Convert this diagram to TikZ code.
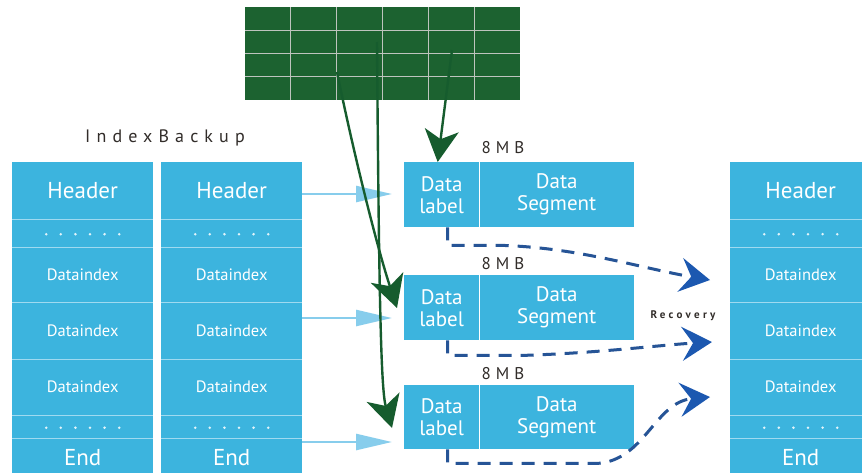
\documentclass[tikz,border=0pt]{standalone}
\usepackage{fontspec}
\setmainfont{PT Sans}
\newfontfamily\spacedA[LetterSpace=34]{PT Sans}
\newfontfamily\spacedB[LetterSpace=30]{PT Sans}
\usetikzlibrary{arrows.meta}
\definecolor{cellblue}{RGB}{60,180,222}
\definecolor{seplight}{RGB}{160,218,240}
\definecolor{gridgreen}{RGB}{28,98,48}
\definecolor{gridline}{RGB}{190,196,190}
\definecolor{arrowgreen}{RGB}{22,92,46}
\definecolor{lightarrow}{RGB}{135,205,236}
\definecolor{dashblue}{RGB}{38,84,150}
\definecolor{headblue}{RGB}{28,88,176}
\definecolor{textgray}{RGB}{50,45,42}
\newcommand\idxcol[2]{%
  \node[cell, bigtxt, minimum height=57pt] (#1h) at (#2,162) {Header};
  \node[cell, minimum height=28pt] (#1d1) at (#2,219) {};
  \node[cell, smalltxt, minimum height=55pt] (#1a) at (#2,247) {Dataindex};
  \node[cell, smalltxt, minimum height=57pt] (#1b) at (#2,302) {Dataindex};
  \node[cell, smalltxt, minimum height=56pt] (#1c) at (#2,359) {Dataindex};
  \node[cell, minimum height=23pt] (#1d2) at (#2,415) {};
  \node[cell, bigtxt, minimum height=38pt] (#1e) at (#2,438) {End};
  \foreach \n in {h,d1,a,b,c,d2} \draw[sep] (#1\n.south west) -- (#1\n.south east);
  \foreach \k in {0,...,5} {
    \fill[white!85!cellblue] ([xshift={(\k-2.5)*14.6pt},yshift=-1pt]#1d1.center) circle (1.4pt);
    \fill[white!85!cellblue] ([xshift={(\k-2.5)*14.6pt},yshift=-1pt]#1d2.center) circle (1.4pt);
  }
}
\begin{document}
\begin{tikzpicture}[x=1pt,y=-1pt,
  cell/.style={anchor=north west, fill=cellblue, minimum width=141pt, inner sep=0pt, text=white},
  bigtxt/.style={font=\fontsize{23}{25}\selectfont},
  smalltxt/.style={font=\fontsize{16.5}{18}\selectfont},
  sep/.style={draw=seplight, line width=1.6pt},
  dbox/.style={anchor=north west, fill=cellblue, inner sep=0pt, text=white, align=center,
    minimum height=65pt, font=\fontsize{21}{22}\selectfont},
  mb/.style={text=textgray, font=\spacedB\fontsize{17}{18}\selectfont, inner sep=0pt},
  lightarr/.style={draw=lightarrow, line width=2.5pt, -{Triangle[length=36pt,width=16pt]}},
  greenarr/.style={draw=arrowgreen, line width=2.4pt, -{Stealth[length=32pt,width=34pt,inset=9pt]}},
  dasharr/.style={draw=dashblue, line width=3pt, dash pattern=on 13pt off 9pt,
    -{Stealth[length=30pt,width=34pt,inset=11pt,color=headblue]}}
]
\useasboundingbox (0,0) rectangle (862,472);
\clip (0,0) rectangle (862,472);
\fill[white] (0,0) rectangle (862,472);

% green grid
\fill[gridgreen] (245,7) rectangle (520,100);
\foreach \i in {1,...,5} \draw[gridline, line width=0.9pt] ({245+\i*45.83},7) -- ({245+\i*45.83},100);
\foreach \j in {1,2,3} \draw[gridline, line width=0.9pt] (245,{7+\j*23.25}) -- (520,{7+\j*23.25});
\coordinate (gA) at (452,50);
\coordinate (gB) at (337,72);
\coordinate (gC) at (377,42);

% title
\node[text=textgray, font=\spacedA\fontsize{18}{20}\selectfont, inner sep=0pt] (title) at (165,138) {IndexBackup};

% columns
\idxcol{p}{12}
\idxcol{q}{161}
\idxcol{r}{730}

% data boxes
\node[dbox, minimum width=75pt] (l1) at (404,162) {Data\\label};
\node[dbox, minimum width=155pt] (s1) at (479,162) {Data\\Segment};
\node[dbox, minimum width=75pt] (l2) at (404,275) {Data\\label};
\node[dbox, minimum width=155pt] (s2) at (479,275) {Data\\Segment};
\node[dbox, minimum width=75pt, minimum height=64pt] (l3) at (404,385) {Data\\label};
\node[dbox, minimum width=155pt, minimum height=64pt] (s3) at (479,385) {Data\\Segment};
\foreach \b in {1,2,3} \draw[white, line width=1.5pt] (l\b.north east) -- (l\b.south east);

\node[mb] (m1) at (503,148) {8MB};
\node[mb] (m2) at (503,264) {8MB};
\node[mb] (m3) at (503,374) {8MB};

\node[text=textgray, font=\spacedB\bfseries\fontsize{11}{12}\selectfont, inner sep=0pt] (rec) at (683,316) {Recovery};

% light blue arrows
\coordinate (la1) at (392,194);
\coordinate (la2) at (392,318);
\coordinate (la3) at (392,442);
\draw[lightarr] (qh.east |- la1) -- (la1);
\draw[lightarr] (qb.east |- la2) -- (la2);
\draw[lightarr] (qe.east |- la3) -- (la3);

% green arrows
\coordinate (tB) at (397,308);
\coordinate (tC) at (392,428);
\draw[greenarr] (gA) -- ([xshift=-4pt]l1.north);
\draw[greenarr] (gB) .. controls (355,160) and (378,250) .. (tB);
\draw[greenarr] (gC) .. controls (379,300) and (381,390) .. (tC);

% recovery dashed arrows
\coordinate (d1) at (710,280);
\coordinate (d2) at (712,342);
\coordinate (d3) at (710,397);
\draw[dasharr] ([xshift=6pt]l1.south) -- ++(0,18) -- ++(55,0) .. controls (580,248) and (640,268) .. (d1);
\draw[dasharr] ([xshift=6pt]l2.south) -- ++(0,15) -- ++(75,0) .. controls (600,353) and (660,345) .. (d2);
\draw[dasharr] ([xshift=6pt]l3.south) -- ++(0,14) -- ++(150,0) .. controls (645,460) and (655,402) .. (d3);
\end{tikzpicture}
\end{document}
